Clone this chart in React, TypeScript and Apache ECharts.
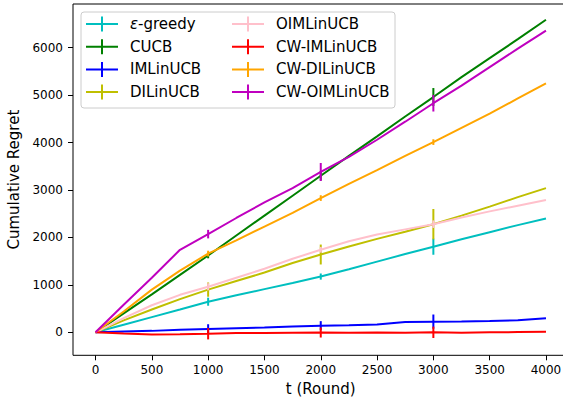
import React, { useEffect, useRef } from "react";
import * as echarts from "echarts";

const T = [0, 250, 500, 750, 1000, 1250, 1500, 1750, 2000, 2250, 2500, 2750, 3000, 3250, 3500, 3750, 4000];

const NAMES = ["ε-greedy", "CUCB", "IMLinUCB", "DILinUCB", "OIMLinUCB", "CW-IMLinUCB", "CW-DILinUCB", "CW-OIMLinUCB"];
const COLORS = ["#00bfbf", "#008000", "#0000ff", "#bfbf00", "#ffc0cb", "#ff0000", "#ffa500", "#bf00bf"];

const EPS_GREEDY = [0, 160, 320, 480, 645, 780, 910, 1040, 1175, 1330, 1490, 1650, 1805, 1960, 2110, 2260, 2400];
const CUCB = [0, 400, 800, 1210, 1620, 2040, 2460, 2880, 3300, 3720, 4130, 4550, 4960, 5380, 5780, 6180, 6590];
const IMLINUCB = [0, 15, 30, 55, 70, 85, 100, 120, 140, 150, 165, 215, 225, 230, 240, 255, 295];
const DILINUCB = [0, 250, 480, 700, 900, 1080, 1260, 1460, 1640, 1810, 1970, 2120, 2280, 2460, 2650, 2850, 3040];
const OIMLINUCB = [0, 300, 570, 790, 960, 1150, 1340, 1550, 1740, 1920, 2060, 2170, 2280, 2420, 2550, 2670, 2790];
const CW_IMLINUCB = [0, -25, -45, -40, -30, -15, -15, -10, -5, -10, -5, -10, 0, -10, 0, 5, 10];
const CW_DILINUCB = [0, 440, 900, 1300, 1660, 1940, 2230, 2520, 2830, 3130, 3420, 3720, 4010, 4310, 4610, 4930, 5250];
const CW_OIMLINUCB = [0, 580, 1150, 1740, 2070, 2410, 2740, 3040, 3380, 3700, 4060, 4440, 4830, 5200, 5590, 5980, 6360];

const ERR_T = [1000, 2000, 3000];
const ERR_EPS_GREEDY = [85, 65, 170];
const ERR_CUCB = [60, 100, 190];
const ERR_IMLINUCB = [100, 95, 150];
const ERR_DILINUCB = [150, 210, 320];
const ERR_OIMLINUCB = [75, 60, 80];
const ERR_CW_IMLINUCB = [120, 105, 120];
const ERR_CW_DILINUCB = [60, 60, 60];
const ERR_CW_OIMLINUCB = [90, 190, 175];

const X_TICKS = [0, 500, 1000, 1500, 2000, 2500, 3000, 3500, 4000];
const Y_TICKS = [0, 1000, 2000, 3000, 4000, 5000, 6000];

const VALUES = [EPS_GREEDY, CUCB, IMLINUCB, DILINUCB, OIMLINUCB, CW_IMLINUCB, CW_DILINUCB, CW_OIMLINUCB];
const ERRS = [ERR_EPS_GREEDY, ERR_CUCB, ERR_IMLINUCB, ERR_DILINUCB, ERR_OIMLINUCB, ERR_CW_IMLINUCB, ERR_CW_DILINUCB, ERR_CW_OIMLINUCB];

const FONT = "DejaVu Sans";
const ICON = "path://M0,6.5h32v2h-32z M15,0h2v15h-2z";

export default function App() {
  const ref = useRef<HTMLDivElement>(null);
  useEffect(() => {
    if (!ref.current) return;
    const chart = echarts.init(ref.current, null, { renderer: "svg" });
    const series: any[] = [];
    NAMES.forEach((name, i) => {
      series.push({
        type: "line",
        name,
        data: T.map((t, j) => [t, VALUES[i][j]]),
        symbol: "none",
        color: COLORS[i],
        lineStyle: { color: COLORS[i], width: 2 },
        itemStyle: { color: COLORS[i] },
        z: 2 + i * 0.01,
      });
      series.push({
        type: "custom",
        name,
        color: COLORS[i],
        clip: false,
        data: ERR_T.map((t, k) => {
          const v = VALUES[i][T.indexOf(t)];
          return [t, v - ERRS[i][k], v + ERRS[i][k]];
        }),
        encode: { x: 0, y: [1, 2] },
        renderItem: (params: any, api: any) => {
          const p1 = api.coord([api.value(0), api.value(1)]);
          const p2 = api.coord([api.value(0), api.value(2)]);
          return {
            type: "line",
            shape: { x1: p1[0], y1: p1[1], x2: p2[0], y2: p2[1] },
            style: { stroke: COLORS[i], lineWidth: 2 },
          };
        },
        z: 2 + i * 0.01,
      });
    });

    const legendBase = {
      orient: "vertical",
      itemWidth: 32,
      itemHeight: 15,
      itemGap: 7.7,
      padding: 0,
      icon: ICON,
      itemStyle: { borderWidth: 0 },
      textStyle: {
        fontSize: 15,
        fontFamily: FONT,
        color: "#000",
        lineHeight: 15,
        padding: [0, 0, 0, 7],
        rich: {
          i: { fontStyle: "italic", fontSize: 15, fontFamily: FONT, color: "#000" },
        },
      },
      formatter: (n: string) => (n === "ε-greedy" ? "{i|ε}-greedy" : n),
      z: 5,
    };

    chart.setOption({
      animation: false,
      backgroundColor: "#fff",
      grid: {
        left: 73,
        top: 4,
        width: 495.5,
        height: 351.3,
        show: true,
        borderColor: "#000",
        borderWidth: 1,
        backgroundColor: "transparent",
        containLabel: false,
        outerBoundsMode: "none",
      },
      xAxis: {
        type: "value",
        min: -200,
        max: 4200,
        name: "t (Round)",
        nameLocation: "middle",
        nameGap: 25,
        nameTextStyle: { fontSize: 15, fontFamily: FONT, color: "#000" },
        axisLine: { show: false, onZero: false },
        splitLine: { show: false },
        axisTick: { show: true, length: 5, customValues: X_TICKS, lineStyle: { color: "#000" } },
        axisLabel: {
          customValues: X_TICKS,
          fontSize: 12,
          fontFamily: FONT,
          color: "#000",
          margin: 9,
          formatter: (v: number) => String(v),
        },
      },
      yAxis: {
        type: "value",
        min: -485,
        max: 6922,
        name: "Cumulative Regret",
        nameLocation: "middle",
        nameGap: 44,
        nameTextStyle: { fontSize: 15, fontFamily: FONT, color: "#000" },
        axisLine: { show: false, onZero: false },
        splitLine: { show: false },
        axisTick: { show: true, length: 5, customValues: Y_TICKS, lineStyle: { color: "#000" } },
        axisLabel: {
          customValues: Y_TICKS,
          fontSize: 12,
          fontFamily: FONT,
          color: "#000",
          margin: 10,
          formatter: (v: number) => String(v),
        },
      },
      legend: [
        { ...legendBase, data: NAMES.slice(0, 4), left: 86, top: 16.5 },
        { ...legendBase, data: NAMES.slice(4), left: 232, top: 16.5 },
      ],
      graphic: {
        elements: [
          {
            type: "rect",
            z: 4,
            shape: { x: 81, y: 12, width: 314, height: 96, r: 3 },
            style: { fill: "rgba(255,255,255,0.8)", stroke: "#cccccc", lineWidth: 1 },
          },
        ],
      },
      series,
    });
    return () => chart.dispose();
  }, []);
  return <div ref={ref} style={{ position: "fixed", left: 0, top: 0, width: 563, height: 401 }} />;
}
